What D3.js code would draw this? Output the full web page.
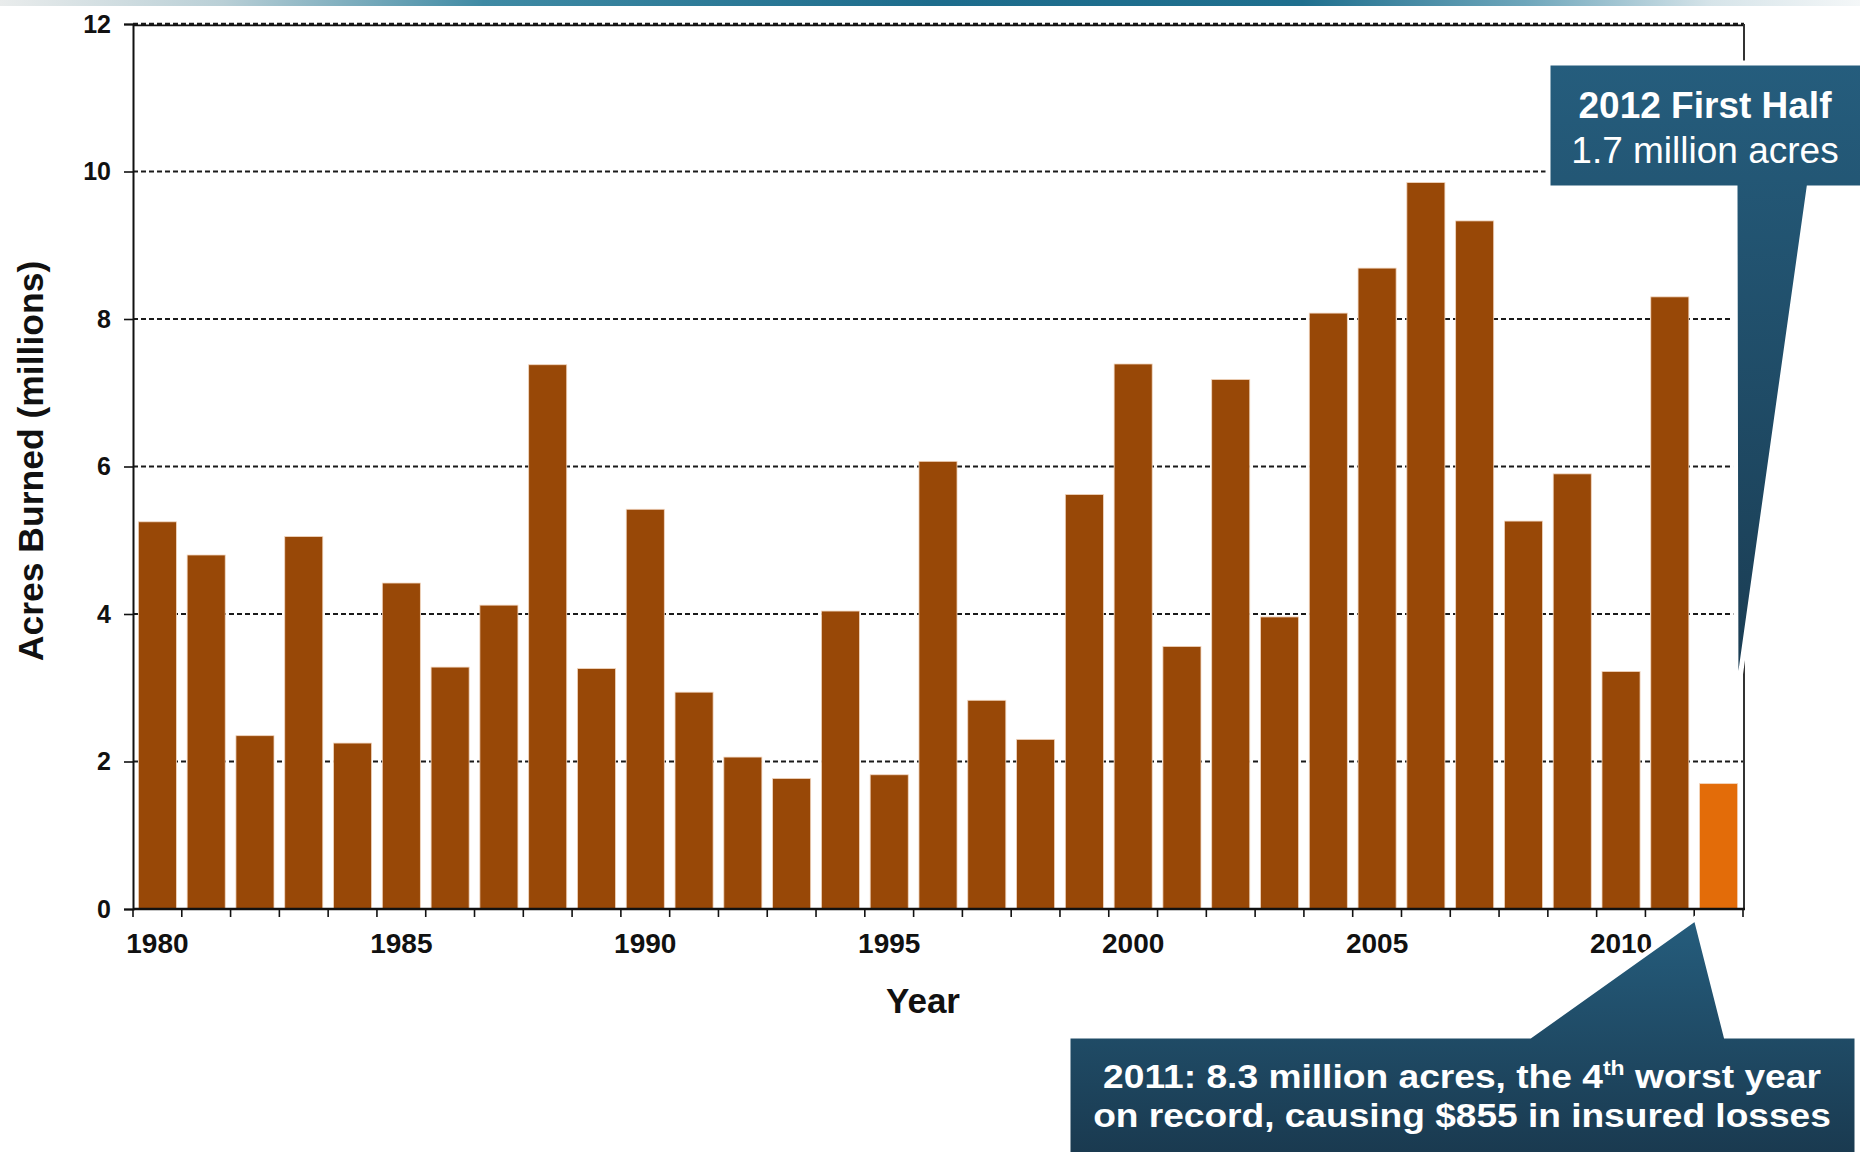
<!DOCTYPE html>
<html>
<head>
<meta charset="utf-8">
<script src="https://cdn.jsdelivr.net/npm/d3@7"></script>
<style>
  html, body { margin: 0; padding: 0; background: #fff; }
  svg { display: block; }
  text { font-family: "Liberation Sans", Arial, sans-serif; }
</style>
</head>
<body>
<svg id="chart" width="1860" height="1152"></svg>
<script>
// Acres burned by U.S. wildfires, millions, 1980–2012 (2012 = first half only)
const years = [1980, 1981, 1982, 1983, 1984, 1985, 1986, 1987, 1988, 1989,
               1990, 1991, 1992, 1993, 1994, 1995, 1996, 1997, 1998, 1999,
               2000, 2001, 2002, 2003, 2004, 2005, 2006, 2007, 2008, 2009,
               2010, 2011, 2012];
const acres = [5.25, 4.80, 2.35, 5.05, 2.25, 4.42, 3.28, 4.12, 7.38, 3.26,
               5.42, 2.94, 2.06, 1.77, 4.04, 1.82, 6.07, 2.83, 2.30, 5.62,
               7.39, 3.56, 7.18, 3.96, 8.08, 8.69, 9.85, 9.33, 5.26, 5.90,
               3.22, 8.3, 1.7];
const partialYears = [2012];
const yTicks = [0, 2, 4, 6, 8, 10, 12];
const xLabelYears = [1980, 1985, 1990, 1995, 2000, 2005, 2010];

const svg = d3.select("#chart");
const W = 1860, H = 1152;
const plot = { left: 133, right: 1743, top: 24, bottom: 909 };

// slide header strip
const defs = svg.append("defs");
const strip = defs.append("linearGradient").attr("id", "strip").attr("x1", 0).attr("x2", 1).attr("y1", 0).attr("y2", 0);
[[0, "#e9ecec"], [0.12, "#b9cfd6"], [0.26, "#3f8aa4"], [0.5, "#1d6c8c"], [0.7, "#1f6f8e"], [0.82, "#6ea6bb"], [0.92, "#d6e4e9"], [1, "#f4f7f8"]]
  .forEach(([o, c]) => strip.append("stop").attr("offset", o).attr("stop-color", c));
svg.append("rect").attr("x", 0).attr("y", 0).attr("width", W).attr("height", 6).attr("fill", "url(#strip)");

const x = d3.scaleBand().domain(years).range([plot.left, plot.right]).paddingInner(0.22).paddingOuter(0.11);
const y = d3.scaleLinear().domain([0, 12]).range([plot.bottom, plot.top]);

// dashed gridlines
const grid = svg.append("g");
grid.selectAll("line").data(yTicks.filter(d => d > 0)).join("line")
  .attr("x1", plot.left).attr("x2", plot.right + 1)
  .attr("y1", d => y(d)).attr("y2", d => y(d))
  .attr("stroke", "#1a1a1a").attr("stroke-width", d => d === 12 ? 2.6 : 1.8)
  .attr("stroke-dasharray", "5,3");
svg.append("line").attr("x1", plot.left).attr("x2", plot.right + 1)
  .attr("y1", y(12) + 1.4).attr("y2", y(12) + 1.4).attr("stroke", "#111").attr("stroke-width", 1.6);

// bars
svg.append("g").selectAll("rect").data(years).join("rect")
  .attr("x", d => x(d))
  .attr("width", x.bandwidth())
  .attr("y", (d, i) => y(acres[i]))
  .attr("height", (d, i) => y(0) - y(acres[i]))
  .attr("fill", d => partialYears.includes(d) ? "#e36c09" : "#984807")
  .attr("stroke", "#f2d6bf").attr("stroke-width", 0.8);

// right frame
svg.append("line").attr("x1", plot.right + 1).attr("x2", plot.right + 1)
  .attr("y1", y(12)).attr("y2", y(0) + 1).attr("stroke", "#333").attr("stroke-width", 2);

// y axis
const yAxis = svg.append("g").attr("transform", `translate(${plot.left},0)`)
  .call(d3.axisLeft(y).tickValues(yTicks).tickSize(9).tickPadding(13).tickFormat(d3.format("d")));
yAxis.select(".domain").attr("stroke", "#111").attr("stroke-width", 2);
yAxis.selectAll(".tick line").attr("stroke", "#111").attr("stroke-width", 1.6);
yAxis.selectAll(".tick text").attr("font-size", 25).attr("font-weight", "bold").attr("fill", "#111")
  .attr("font-family", '"Liberation Sans", Arial, sans-serif');

// x axis: labels centred on bars, ticks on band edges
const step = x.step();
const edges = years.map(d => x(d) - step * x.paddingInner() / 2).concat([x(years[years.length - 1]) + x.bandwidth() + step * x.paddingInner() / 2]);
const xAxis = svg.append("g").attr("transform", `translate(0,${plot.bottom})`);
xAxis.selectAll("line.edge").data(edges).join("line").attr("class", "edge")
  .attr("x1", d => d).attr("x2", d => d).attr("y1", 0).attr("y2", 8)
  .attr("stroke", "#111").attr("stroke-width", 1.6);
xAxis.append("line").attr("x1", plot.left).attr("x2", plot.right + 2).attr("y1", 0).attr("y2", 0)
  .attr("stroke", "#111").attr("stroke-width", 2.4);
xAxis.selectAll("text").data(xLabelYears).join("text")
  .attr("x", d => x(d) + x.bandwidth() / 2).attr("y", 44)
  .attr("text-anchor", "middle").attr("font-size", 28).attr("font-weight", "bold").attr("fill", "#111")
  .text(d => d);

// axis titles
svg.append("text").attr("x", 923).attr("y", 1013).attr("text-anchor", "middle")
  .attr("font-size", 35).attr("font-weight", "bold").attr("fill", "#111").text("Year");
svg.append("text").attr("transform", "translate(43,461) rotate(-90)").attr("text-anchor", "middle")
  .attr("font-size", 35.5).attr("font-weight", "bold").attr("fill", "#111").text("Acres Burned (millions)");

// callouts
function calloutFill(id, y1, y2, c1, c2) {
  const g = defs.append("linearGradient").attr("id", id).attr("gradientUnits", "userSpaceOnUse")
    .attr("x1", 0).attr("x2", 0).attr("y1", y1).attr("y2", y2);
  g.append("stop").attr("offset", 0).attr("stop-color", c1);
  g.append("stop").attr("offset", 1).attr("stop-color", c2);
  return `url(#${id})`;
}
svg.append("path")
  .attr("d", `M1548,63 H1864 V188 H1809 L1736,706 L1735,188 H1548 Z`)
  .attr("fill", calloutFill("cTop", 63, 706, "#255d7d", "#1a3b51"))
  .attr("stroke", "#fff").attr("stroke-width", 5).attr("stroke-linejoin", "miter").attr("stroke-miterlimit", 20);
svg.append("text").attr("x", 1705).attr("y", 118).attr("text-anchor", "middle")
  .attr("font-size", 37).attr("font-weight", "bold").attr("fill", "#fff").text("2012 First Half");
svg.append("text").attr("x", 1705).attr("y", 163).attr("text-anchor", "middle")
  .attr("font-size", 37).attr("fill", "#fff").text("1.7 million acres");

svg.append("path")
  .attr("d", `M1068,1036 H1530 L1696,918 L1726,1036 H1857 V1156 H1068 Z`)
  .attr("fill", calloutFill("cBot", 918, 1152, "#255d7d", "#1a3a50"))
  .attr("stroke", "#fff").attr("stroke-width", 5).attr("stroke-linejoin", "miter").attr("stroke-miterlimit", 20);

function fitLine(sel, cx, width) {
  const w = sel.node().getBBox().width;
  sel.attr("transform", `translate(${cx},0) scale(${width / w},1) translate(${-cx},0)`);
}
const l1 = svg.append("text").attr("x", 1462).attr("y", 1088).attr("text-anchor", "middle")
  .attr("font-size", 34).attr("font-weight", "bold").attr("fill", "#fff");
l1.append("tspan").text("2011: 8.3 million acres, the 4");
l1.append("tspan").attr("font-size", 21).attr("dy", -13).text("th");
l1.append("tspan").attr("dy", 13).text(" worst year");
fitLine(l1, 1462, 718);
const l2 = svg.append("text").attr("x", 1462).attr("y", 1127).attr("text-anchor", "middle")
  .attr("font-size", 34).attr("font-weight", "bold").attr("fill", "#fff")
  .text("on record, causing $855 in insured losses");
fitLine(l2, 1462, 738);
</script>
</body>
</html>
